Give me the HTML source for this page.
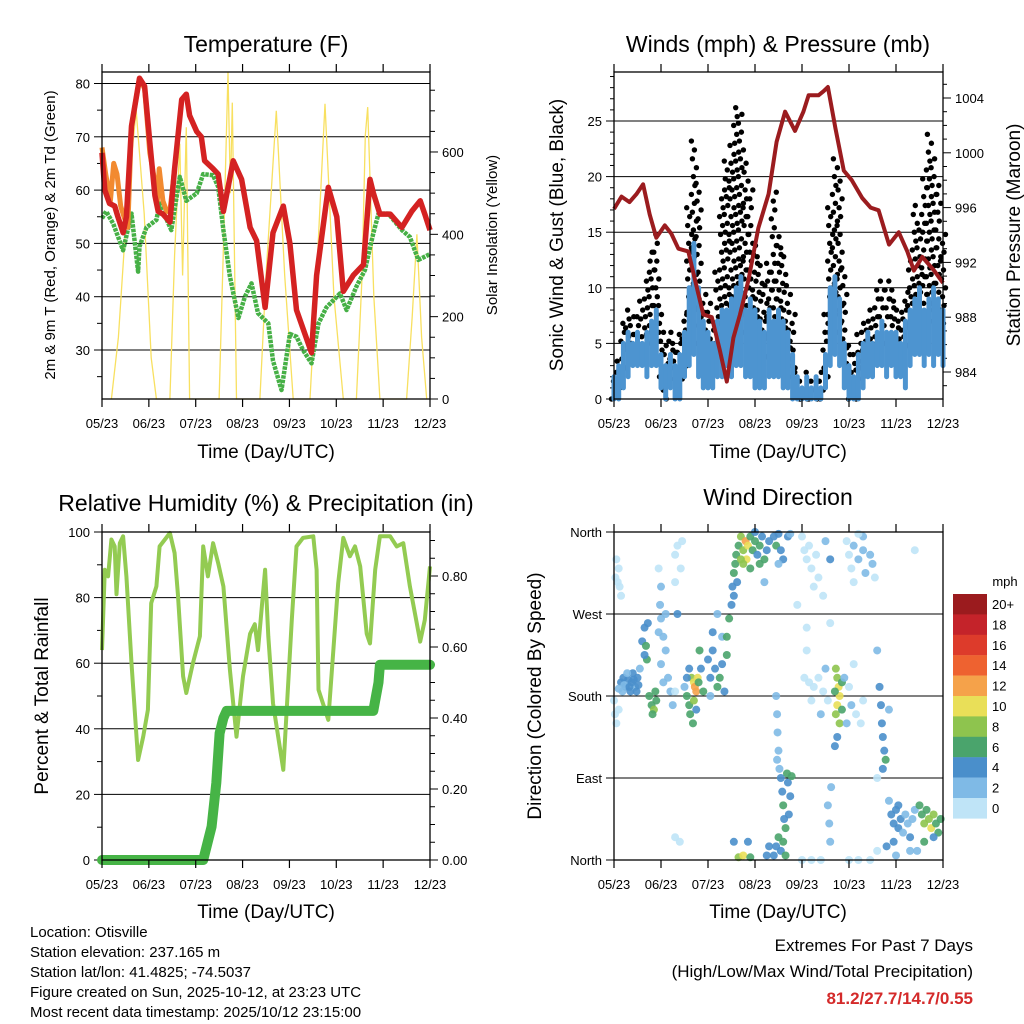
<!DOCTYPE html>
<html><head><meta charset="utf-8"><style>
html,body{margin:0;padding:0;background:#fff;}
svg{display:block;font-family:"Liberation Sans",sans-serif;}
</style></head><body>
<svg id="chart" xmlns="http://www.w3.org/2000/svg" width="1024" height="1024" viewBox="0 0 1024 1024">
<rect x="0" y="0" width="1024" height="1024" fill="#fff"/>
<g id="p1"></g>
<g id="p2"></g>
<g id="p3"></g>
<g id="p4"></g>
<g font-size="23" text-anchor="middle" fill="#000">
<text x="266" y="52">Temperature (F)</text>
<text x="778" y="52">Winds (mph) &amp; Pressure (mb)</text>
<text x="266" y="511">Relative Humidity (%) &amp; Precipitation (in)</text>
<text x="778" y="505">Wind Direction</text>
</g>
<g font-size="19" text-anchor="middle" fill="#000">
<text x="266" y="458">Time (Day/UTC)</text>
<text x="778" y="458">Time (Day/UTC)</text>
<text x="266" y="918">Time (Day/UTC)</text>
<text x="778" y="918">Time (Day/UTC)</text>
<text transform="translate(563,235) rotate(-90)">Sonic Wind &amp; Gust (Blue, Black)</text>
<text transform="translate(1020,235) rotate(-90)">Station Pressure (Maroon)</text>
<text transform="translate(48,696) rotate(-90)">Percent &amp; Total Rainfall</text>
<text transform="translate(541,696) rotate(-90)">Direction (Colored By Speed)</text>
</g>
<g font-size="15" text-anchor="middle" fill="#000">
<text transform="translate(55,235) rotate(-90)">2m &amp; 9m T (Red, Orange) &amp; 2m Td (Green)</text>
<text transform="translate(497,235) rotate(-90)">Solar Insolation (Yellow)</text>
</g>
<g font-size="15" fill="#000">
<text x="30" y="937">Location: Otisville</text>
<text x="30" y="957">Station elevation: 237.165 m</text>
<text x="30" y="977">Station lat/lon: 41.4825; -74.5037</text>
<text x="30" y="997">Figure created on Sun, 2025-10-12, at 23:23 UTC</text>
<text x="30" y="1017">Most recent data timestamp: 2025/10/12 23:15:00</text>
</g>
<g font-size="17" text-anchor="end">
<text x="973" y="951" fill="#000">Extremes For Past 7 Days</text>
<text x="973" y="977" fill="#000">(High/Low/Max Wind/Total Precipitation)</text>
<text x="973" y="1004" fill="#d42a2a" font-weight="bold">81.2/27.7/14.7/0.55</text>
</g>
<g id="legend"></g>
</svg>
<script>
const xTickLabels=["05/23","06/23","07/23","08/23","09/23","10/23","11/23","12/23"];
const tempLeftTicks=[30,40,50,60,70,80];
const solarTicks=[0,200,400,600];
const windTicks=[0,5,10,15,20,25];
const pressTicks=[984,988,992,996,1000,1004];
const rhTicks=[0,20,40,60,80,100];
const precipTicks=[0,0.2,0.4,0.6,0.8];
const dirTicks=[0,90,180,270,360];
const dirTickLabels=["North","East","South","West","North"];
const speedLabels=["20+","18","16","14","12","10","8","6","4","2","0"];
const speedColors=["#9b1b1e","#c4232a","#dd3b2b","#ee6230","#f5a24a","#e9df58","#8ec44e","#4aa46c","#4a8fcb","#7fbae6","#bfe4f7"];

const tempTime=[0,.06,.16,.27,.34,.45,.52,.63,.80,.91,1.02,1.13,1.20,1.30,1.45,1.55,1.70,1.80,1.87,2.02,2.12,2.19,2.37,2.48,2.59,2.80,2.98,3.16,3.30,3.48,3.65,3.87,4.01,4.15,4.47,4.58,4.83,5.01,5.15,5.36,5.58,5.72,5.79,5.93,6.15,6.40,6.61,6.79,6.89,7.0];
const tempVals=[67,60,57.5,57,55,52,55,72,81,79.5,69,59,56,55.5,54,64,77,78,74,71,70,65.5,64,63,56,65.5,62,53,50.5,38,52,57,50,37.5,29.5,44,60.5,55,41,44,46,62,59.5,55.5,55.5,53,56,58,55.5,52.5];
const orangeTime=[0,.08,.18,.25,.32,.40,.47,.55,.63,.80,.91,1.02,1.10,1.18,1.22,1.30,1.38,1.45,1.55];
const orangeVals=[68,63,58,65,63,57,55,53,72,81,79,67,63,58,64,58,56,56,64];
const dewTime=[0,.09,.24,.45,.63,.77,.80,.95,1.16,1.23,1.48,1.66,1.80,2.02,2.16,2.37,2.48,2.59,2.73,2.91,3.05,3.19,3.33,3.55,3.65,3.83,4.01,4.15,4.29,4.47,4.62,4.79,5.08,5.22,5.43,5.61,5.79,5.90,6.11,6.40,6.57,6.75,7.0];
const dewVals=[54.7,56,53.7,48.7,55.6,44.7,49.4,53,54.4,57.5,52.5,62.5,58,59.4,63,62.8,60.6,52.5,43.8,36,40,42.5,36.9,35,28,22.5,33,32.5,30,27.5,35,38,40.6,37.5,41.9,45,51.9,55.6,55.6,52.5,51.2,46.9,48];
const solarTime=[0.2,0.35,0.55,0.73,0.9,1.05,1.16,1.45,1.55,1.66,1.72,1.8,1.87,2.5,2.6,2.69,2.74,2.78,2.87,3.37,3.5,3.72,3.9,4.08,4.44,4.58,4.76,4.95,5.15,5.43,5.55,5.62,5.67,5.8,5.93,6.5,6.62,6.72,6.82,6.93];
const solarVals=[0,150,500,700,450,100,0,0,350,620,300,660,0,0,400,794,500,720,0,0,300,700,300,0,0,300,717,250,0,0,300,640,709,250,0,0,200,400,150,0];

const pressTime=[0,.16,.33,.48,.62,.76,.9,1.08,1.22,1.37,1.58,1.76,1.90,2.08,2.25,2.40,2.54,2.68,2.86,3.07,3.29,3.46,3.64,3.85,4.03,4.14,4.35,4.46,4.55,4.71,4.89,5.06,5.28,5.46,5.63,5.85,6.06,6.24,6.38,6.56,6.81,7.0];
const pressVals=[995.9,996.8,996.4,997,997.7,995.5,993.8,994.7,994.1,993,992.8,990.2,988.2,988,985.6,983.3,986.5,988.2,990.7,994.5,997,1000.8,1003,1001.6,1003,1004.2,1004.2,1004.5,1004.8,1001.8,998.7,998,996.7,996,995.8,993.3,994.2,992.8,991.4,992.4,991.4,990.5];
const windLo=[0,0,1,2,3,3,3,2,3,3,1,0,1,0,0,2,3,4,2,1,1,1,2,2,3,2,3,3,2,2,1,1,1,2,2,2,1,1,0,0,0,0,0,0,0,1,3,4,3,1,0,0,0,1,2,2,3,3,2,3,2,2,1,3,4,4,3,4,3,4,3];
const windHi=[2,3,5,6,5,6,5,6,7,8,4,3,4,3,4,6,10,14,10,7,6,5,7,8,8,9,10,11,8,9,8,7,6,8,7,8,7,6,4,2,1,2,1,2,1,4,10,11,9,5,3,2,4,5,6,5,6,7,6,6,6,5,7,8,9,10,8,9,10,9,8];
const gustLo=[0,1,2,4,5,5,4,5,6,6,2,0,2,1,1,3,6,8,5,3,3,3,5,6,7,6,7,8,6,6,5,4,3,5,5,5,4,3,2,0,0,0,0,0,0,2,6,8,6,3,0,0,1,2,3,4,5,5,5,5,4,3,4,6,7,8,7,7,8,8,6];
const gustHi=[3,4,7,8,8,8,9,12,14,15,9,5,6,5,6,8,18,24,20,10,9,7,12,19,22,23,27,26,22,19,14,13,11,13,19,15,14,11,8,3,2,3,2,2,3,8,18,22,20,12,5,4,6,7,7,8,10,11,10,11,9,8,10,13,18,16,20,24,22,20,15];

const rhTime=[0,.06,.13,.2,.27,.31,.38,.45,.52,.63,.77,.88,.98,1.05,1.16,1.23,1.45,1.55,1.62,1.73,1.80,1.94,2.09,2.16,2.26,2.37,2.48,2.59,2.73,2.87,3.01,3.16,3.26,3.33,3.48,3.55,3.65,3.87,4.05,4.15,4.29,4.51,4.58,4.62,4.83,5.04,5.15,5.29,5.40,5.51,5.65,5.72,5.83,5.93,6.15,6.29,6.43,6.57,6.79,6.89,7.0];
const rhVals=[64,88.5,86.5,97.7,95.6,81,96.6,98.7,86.5,60,30.5,37.6,45.8,78.3,83.4,95.6,99.7,93.6,81,56,50.9,60,68.2,95.6,86.5,96.6,90.5,83.4,58,37.6,56,69,71.9,64,88.5,68.2,47.8,27.5,73.2,95.6,98.2,98.7,88.5,51.9,42.7,84.4,98.2,92.6,95.6,89.5,69,66,88.5,98.7,98.7,95.6,96.6,83.4,66.6,73.2,89.5];
const precipTime=[0,2.16,2.23,2.34,2.44,2.51,2.59,2.66,5.79,5.90,5.93,7.0];
const precipVals=[0,0,0.037,0.094,0.217,0.357,0.40,0.42,0.42,0.50,0.55,0.55];

const dirTime=[0.05,0.1,0.08,0.12,0.15,0.03,0.0,0.02,0.05,0.1,
0.15,0.2,0.25,0.3,0.35,0.4,0.45,0.5,0.18,0.28,0.38,0.48,0.55,0.22,0.33,0.1,0.42,0.52,0.6,0.65,
0.68,0.7,0.72,0.65,0.75,0.8,0.85,0.9,0.82,0.88,0.95,1.0,1.05,1.1,1.0,1.15,1.2,1.05,1.1,0.98,1.3,1.35,1.45,1.42,1.3,1.0,0.95,1.35,1.3,1.25,
1.55,1.6,1.62,1.65,1.7,1.72,1.75,1.78,1.8,1.68,1.7,1.85,1.9,1.75,1.55,1.82,1.5,1.6,
2.0,2.05,2.1,2.15,2.2,2.25,2.3,2.35,2.1,2.3,2.4,2.45,2.4,2.2,2.05,
2.5,2.52,2.55,2.58,2.6,2.62,2.55,
2.65,2.7,2.75,2.8,2.85,2.82,2.9,2.95,3.0,2.75,3.05,3.1,3.15,3.2,3.25,3.3,2.9,3.1,2.7,3.0,3.4,3.45,3.5,3.55,3.6,3.7,3.75,3.5,3.2,3.9,
4.0,4.05,4.1,4.15,4.2,4.3,4.35,4.25,4.5,4.6,4.45,4.6,4.1,
4.95,5.0,5.05,5.1,5.2,5.3,5.35,5.45,5.5,5.3,5.1,5.2,5.55,6.4,
4.05,4.15,4.25,4.35,4.45,4.55,4.2,4.4,4.1,4.5,4.72,4.75,4.78,4.8,4.75,4.72,4.8,4.85,4.7,4.85,4.9,5.0,5.05,5.15,5.25,5.3,5.1,4.95,4.75,4.7,
5.65,5.68,5.7,5.72,5.75,5.78,5.72,5.85,5.6,5.6,
3.55,3.58,3.6,3.62,3.65,3.6,3.55,3.7,3.75,3.72,3.68,3.78,3.5,3.45,3.4,3.65,
3.45,3.47,3.48,3.5,3.52,3.47,
2.65,2.75,2.9,2.55,2.85,3.3,3.25,4.0,4.2,4.4,5.0,5.2,5.45,5.6,4.55,4.58,4.6,4.62,1.4,1.3,
5.85,5.9,5.95,6.0,6.05,6.1,6.15,6.2,6.25,6.3,5.95,6.05,6.35,6.4,6.5,6.55,6.6,6.65,6.7,6.75,6.8,6.85,6.9,6.95,6.8,6.6,6.45,5.8,6.0,6.3];
const dirDeg=[330,320,305,300,290,310,175,160,150,165,
195,200,190,198,185,205,190,200,185,205,195,185,210,192,190,188,198,192,240,255,
235,220,260,225,180,170,165,175,160,185,250,265,245,230,215,200,185,195,270,280,335,345,350,320,305,300,320,270,185,170,
180,170,160,200,195,190,185,200,195,150,175,210,185,165,200,230,190,210,
220,200,230,210,190,200,215,185,250,245,225,265,245,270,180,
280,300,315,325,335,305,290,
345,355,340,350,345,330,355,340,350,325,335,345,355,330,340,350,320,325,330,360,355,345,358,340,330,355,358,325,305,280,
355,340,330,345,320,335,310,300,350,330,290,260,255,
350,335,320,345,330,340,315,335,325,355,305,358,310,340,
200,195,190,200,185,175,175,160,230,210,210,200,190,180,170,160,150,195,185,165,200,190,170,160,150,175,215,150,135,125,
190,170,150,135,120,110,100,165,90,230,
90,75,60,45,35,20,10,85,70,50,95,92,25,15,5,5,
180,160,140,120,100,110,
3,5,3,20,20,15,5,0,0,0,0,0,0,10,60,40,20,80,20,25,
65,50,40,55,35,45,30,50,40,25,20,60,45,55,60,50,40,55,45,35,50,40,30,45,25,20,10,15,5,10];
const dirSpeed=[0,0,1,0,1,0,0,1,1,0,
4,4,4,4,4,4,3,4,3,3,4,4,3,2,4,2,4,5,4,5,
6,6,4,4,6,7,8,7,6,6,2,2,3,2,3,2,2,3,2,2,1,1,1,1,1,2,0,4,1,2,
6,6,7,8,10,13,12,10,6,6,8,4,6,5,4,6,3,5,
4,4,4,5,6,6,4,4,4,3,6,6,6,2,3,
5,5,6,6,7,4,4,
7,8,9,12,10,10,6,7,6,8,5,6,4,6,5,4,6,6,8,4,4,6,5,4,5,4,3,2,2,1,
1,1,0,1,1,0,1,1,3,4,0,0,1,
1,1,0,2,3,3,2,2,3,2,1,1,1,0,
0,1,1,0,1,1,1,2,1,2,8,9,10,10,10,9,8,6,6,7,2,1,2,1,1,0,1,2,5,4,
4,4,4,4,5,6,5,2,1,3,
4,5,6,5,6,6,4,4,4,4,6,6,6,4,4,6,
3,3,2,2,2,2,
8,10,6,4,4,4,4,1,0,1,0,1,1,1,2,2,2,2,1,1,
3,4,4,4,4,4,3,3,3,4,4,4,3,3,6,7,8,7,8,10,8,7,6,6,4,6,3,4,2,3];

const NS="http://www.w3.org/2000/svg";
function mk(tag,attrs,parent){const e=document.createElementNS(NS,tag);for(const k in attrs)e.setAttribute(k,attrs[k]);parent.appendChild(e);return e;}
function txt(s,attrs,parent){const e=mk('text',attrs,parent);e.textContent=s;return e;}

const xL=t=>102+t*(328/7);
const xR=t=>614+t*(329/7);
const yTemp=v=>350-(v-30)*5.33;
const ySolar=v=>399-v*0.4117;
const yWind=v=>399-v*11.12;
const yPress=p=>372-(p-984)*13.7;
const yRH=v=>860-v*3.28;
const yPrecip=v=>860-v*355;
const yDir=d=>860-d*(328/360);

function frame(g,x0,y0,x1,y1){
  for(let i=0;i<xTickLabels.length;i++){
    const x=x0+i*(x1-x0)/7;
    const a=mk('line',{x1:x,x2:x,y1:y1,y2:y1+8,stroke:'#000','stroke-width':1.2},g);
    
    
    const b=mk('line',{x1:x,x2:x,y1:y0,y2:y0-8,stroke:'#000','stroke-width':1.2},g);
    
    
    const t=txt(xTickLabels[i],{x:x,y:y1+29,'font-size':13,'text-anchor':'middle'},g);
    
    
  }
}
function box(g,x0,y0,x1,y1){
  const r=mk('rect',{x:x0,y:y0,width:x1-x0,height:y1-y0,fill:'none',stroke:'#000','stroke-width':1.3},g);
  
  
}
function grid(g,x0,x1,y){
  const l=mk('line',{x1:x0,x2:x1,y1:y,y2:y,stroke:'#000','stroke-width':1},g);
  
  
}
function ytick(g,x,y,dir,len,label,side){
  const l=mk('line',{x1:x,x2:x+dir*len,y1:y,y2:y,stroke:'#000','stroke-width':1},g);
  
  
  if(label!==null){
    const t=txt(label,{x:x+dir*(len+4),y:y+5,'font-size':13,'text-anchor':dir<0?'end':'start'},g);
    
    
  }
}
function poly(ts,vs,fx,fy){return ts.map((t,i)=>fx(t).toFixed(1)+','+fy(vs[i]).toFixed(1)).join(' ');}

(function(){
  const g=document.getElementById('p1');
  tempLeftTicks.forEach(v=>grid(g,102,430,yTemp(v)));
  for(let v=25;v<=80;v+=5){ytick(g,102,yTemp(v),-1,v%10===0?8:5,v%10===0?String(v):null,'left');}
  for(let v=0;v<=750;v+=50){ytick(g,430,ySolar(v),1,solarTicks.includes(v)?8:5,solarTicks.includes(v)?String(v):null,'right');}
  const s=mk('polyline',{points:poly(solarTime,solarVals,xL,ySolar),fill:'none',stroke:'#f8e060','stroke-width':1.3},g);
  
  
  const d=mk('polyline',{points:poly(dewTime,dewVals,xL,yTemp),fill:'none',stroke:'#46b046','stroke-width':4.5,'stroke-dasharray':'3.5 1','stroke-linejoin':'round'},g);
  
  
  const o=mk('polyline',{points:poly(orangeTime,orangeVals,xL,yTemp),fill:'none',stroke:'#f28a30','stroke-width':5,'stroke-linejoin':'round'},g);
  
  
  const r=mk('polyline',{points:poly(tempTime,tempVals,xL,yTemp),fill:'none',stroke:'#d42222','stroke-width':5.5,'stroke-linejoin':'round'},g);
  
  
  box(g,102,72,430,399);
  frame(g,102,72,430,399);
})();

(function(){
  const g=document.getElementById('p2');
  windTicks.slice(1).forEach(v=>grid(g,614,943,yWind(v)));
  for(let v=0;v<=29;v+=1){const maj=windTicks.includes(v);ytick(g,614,yWind(v),-1,maj?8:4,maj?String(v):null,'left');}
  for(let p=983;p<=1005;p++){const maj=pressTicks.includes(p);ytick(g,943,yPress(p),1,maj?8:4,maj?String(p):null,'right');}
  const step=0.1;
  const jit=[-2.5,1,-0.5,2.5,-1.5,0.5];
  for(let i=0;i<gustHi.length;i++){
    for(let v=gustLo[i],k=0;v<=gustHi[i];v+=0.8,k++){
      const c=mk('circle',{cx:xR(i*step)+jit[(k+i)%6],cy:yWind(v),r:2.7,fill:'#000'},g);
      
      
    }
  }
  for(let i=0;i<windHi.length;i++){
    const b=mk('line',{x1:xR(i*step),x2:xR(i*step),y1:yWind(windLo[i]),y2:yWind(windHi[i]),stroke:'#4d94d0','stroke-width':5,'stroke-linecap':'round'},g);
    
    
  }
  const p=mk('polyline',{points:poly(pressTime,pressVals,xR,yPress),fill:'none',stroke:'#9b1c1f','stroke-width':4,'stroke-linejoin':'round'},g);
  
  
  box(g,614,72,943,399);
  frame(g,614,72,943,399);
})();

(function(){
  const g=document.getElementById('p3');
  rhTicks.slice(1,-1).forEach(v=>grid(g,102,430,yRH(v)));
  for(let v=0;v<=100;v+=10){const maj=v%20===0;ytick(g,102,yRH(v),-1,maj?8:5,maj?String(v):null,'left');}
  for(let k=0;k<=18;k++){const v=k*0.05;const maj=k%4===0;ytick(g,430,yPrecip(v),1,maj?8:5,maj?v.toFixed(2):null,'right');}
  const h=mk('polyline',{points:poly(rhTime,rhVals,xL,yRH),fill:'none',stroke:'#93cb52','stroke-width':4,'stroke-linejoin':'round'},g);
  
  
  const pr=mk('polyline',{points:poly(precipTime,precipVals,xL,yPrecip),fill:'none',stroke:'#46b446','stroke-width':10,'stroke-linejoin':'round','stroke-linecap':'round'},g);
  
  
  box(g,102,532,430,860);
  frame(g,102,532,430,860);
})();

(function(){
  const g=document.getElementById('p4');
  dirTicks.slice(1,-1).forEach(v=>grid(g,614,943,yDir(v)));
  dirTicks.forEach((d,i)=>ytick(g,614,yDir(d),-1,8,dirTickLabels[i],'left'));
  for(let i=0;i<dirTime.length;i++){
    const bin=Math.min(10,Math.floor(dirSpeed[i]/2));
    const c=mk('circle',{cx:xR(dirTime[i]),cy:yDir(dirDeg[i]),r:4,fill:speedColors[10-bin],'fill-opacity':0.9},g);
    
    
  }
  box(g,614,532,943,860);
  frame(g,614,532,943,860);
  const lg=document.getElementById('legend');
  const t=txt('mph',{x:1005,y:586,'font-size':13,'text-anchor':'middle'},lg);
  
  
  for(let i=0;i<speedColors.length;i++){
    const y=594+i*20.4;
    const r=mk('rect',{x:953,y:y,width:34,height:20.6,fill:speedColors[i]},lg);
    
    
    const l=txt(speedLabels[i],{x:992,y:y+15,'font-size':13},lg);
    
    
  }
})();
</script>
</body></html>
